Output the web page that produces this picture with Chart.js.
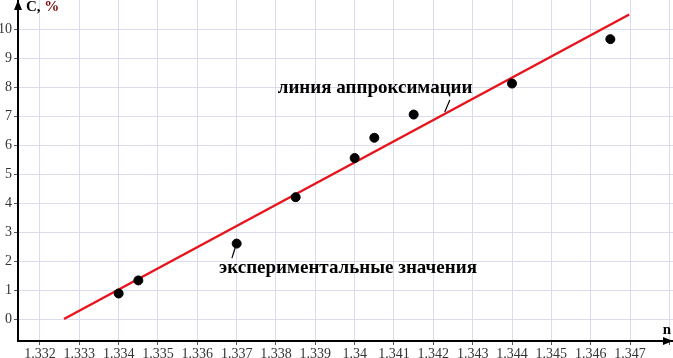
<!DOCTYPE html>
<html>
<head>
<meta charset="utf-8">
<script src="https://cdn.jsdelivr.net/npm/chart.js@4"></script>
<style>
  html, body { margin: 0; padding: 0; background: #fff; }
  #wrap { width: 673px; height: 358px; }
</style>
</head>
<body>
<div id="wrap"><canvas id="c" width="673" height="358"></canvas></div>
<script>
/* --- data --- */
var expN = [1.334, 1.3345, 1.337, 1.3385, 1.34, 1.3405, 1.3415, 1.344, 1.3465];
var expC = [0.88, 1.33, 2.6, 4.2, 5.55, 6.25, 7.05, 8.12, 9.65];

// approximation line end points
var fitN = [1.33261, 1.34698];
var fitC = [0.0, 10.5];

var xTicks = [1.332, 1.333, 1.334, 1.335, 1.336, 1.337, 1.338, 1.339, 1.34, 1.341, 1.342, 1.343, 1.344, 1.345, 1.346, 1.347, 1.348];
var xTickLabels = ['1.332', '1.333', '1.334', '1.335', '1.336', '1.337', '1.338', '1.339', '1.34', '1.341', '1.342', '1.343', '1.344', '1.345', '1.346', '1.347', ''];
var yTicks = [0, 1, 2, 3, 4, 5, 6, 7, 8, 9, 10];
var yTickLabels = ['0', '1', '2', '3', '4', '5', '6', '7', '8', '9', '10'];

// annotation texts (data coords) and their leader lines
var noteText = ['линия аппроксимации', 'экспериментальные значения'];
var noteAt = [[1.34052, 7.97], [1.33983, 1.76]];
var noteLead = [[[1.34242, 7.55], [1.34229, 7.14]], [[1.33696, 2.45], [1.33688, 2.10]]];

var serif = "'Liberation Serif', 'DejaVu Serif', serif";

function pairs(xs, ys) {
  var out = [];
  for (var i = 0; i < xs.length; i++) out.push({ x: xs[i], y: ys[i] });
  return out;
}

/* --- axis arrows, axis titles, annotations --- */
var decor = {
  id: 'decor',
  afterDraw: function(chart) {
    var ctx = chart.ctx;
    var a = chart.chartArea;
    var xs = chart.scales.x, ys = chart.scales.y;
    ctx.save();
    ctx.fillStyle = '#000';
    // arrow on y axis
    ctx.beginPath();
    ctx.moveTo(a.left, a.top);
    ctx.lineTo(a.left - 4, a.top + 10);
    ctx.lineTo(a.left + 4, a.top + 10);
    ctx.closePath();
    ctx.fill();
    // arrow on x axis
    ctx.beginPath();
    ctx.moveTo(a.right, a.bottom);
    ctx.lineTo(a.right - 10, a.bottom - 4);
    ctx.lineTo(a.right - 10, a.bottom + 4);
    ctx.closePath();
    ctx.fill();

    // axis titles
    ctx.font = 'bold 15px ' + serif;
    ctx.textBaseline = 'middle';
    ctx.textAlign = 'left';
    ctx.fillStyle = '#000';
    ctx.fillText('C,', a.left + 8, 7);
    var w = ctx.measureText('C, ').width;
    ctx.fillStyle = '#7a0a0a';
    ctx.fillText('%', a.left + 8 + w, 7);
    ctx.fillStyle = '#000';
    ctx.textAlign = 'center';
    ctx.fillText('n', a.right - 6, a.bottom - 11);

    // annotations
    ctx.font = 'bold 19px ' + serif;
    for (var i = 0; i < noteText.length; i++) {
      ctx.fillText(noteText[i], xs.getPixelForValue(noteAt[i][0]), ys.getPixelForValue(noteAt[i][1]));
      var p = noteLead[i];
      ctx.beginPath();
      ctx.lineWidth = 1.2;
      ctx.strokeStyle = '#000';
      ctx.moveTo(xs.getPixelForValue(p[0][0]), ys.getPixelForValue(p[0][1]));
      ctx.lineTo(xs.getPixelForValue(p[1][0]), ys.getPixelForValue(p[1][1]));
      ctx.stroke();
    }
    ctx.restore();
  }
};

new Chart(document.getElementById('c'), {
  type: 'scatter',
  data: {
    datasets: [
      {
        label: 'fit',
        data: pairs(fitN, fitC),
        showLine: true,
        borderColor: '#e8141c',
        borderWidth: 2.5,
        pointRadius: 0,
        order: 2
      },
      {
        label: 'exp',
        data: pairs(expN, expC),
        backgroundColor: '#000',
        borderColor: '#000',
        pointRadius: 4.5,
        order: 1
      }
    ]
  },
  options: {
    responsive: false,
    animation: false,
    layout: { padding: 0, autoPadding: false },
    plugins: { legend: { display: false }, tooltip: { enabled: false } },
    scales: {
      x: {
        type: 'linear',
        min: 1.331441,
        max: 1.348093,
        afterFit: function(s) { s.height = 17; s.paddingLeft = 0; s.paddingRight = 0; },
        afterBuildTicks: function(s) { s.ticks = xTicks.map(function(v) { return { value: v }; }); },
        grid: { color: '#dcdcef', lineWidth: 1, tickLength: 4, tickColor: '#555' },
        border: { display: true, color: '#000', width: 2 },
        ticks: {
          autoSkip: false,
          maxRotation: 0,
          padding: 1,
          color: '#333',
          font: { family: serif, size: 14 },
          callback: function(v, i) { return xTickLabels[i]; }
        }
      },
      y: {
        type: 'linear',
        min: -0.7586,
        max: 11.0,
        afterFit: function(s) { s.width = 18; s.paddingTop = 0; s.paddingBottom = 0; },
        afterBuildTicks: function(s) { s.ticks = yTicks.map(function(v) { return { value: v }; }); },
        grid: { color: '#dcdcef', lineWidth: 1, tickLength: 4, tickColor: '#555' },
        border: { display: true, color: '#000', width: 2 },
        ticks: {
          autoSkip: false,
          padding: 2,
          color: '#333',
          font: { family: serif, size: 14 },
          callback: function(v, i) { return yTickLabels[i]; }
        }
      }
    }
  },
  plugins: [decor]
});
</script>
</body>
</html>
